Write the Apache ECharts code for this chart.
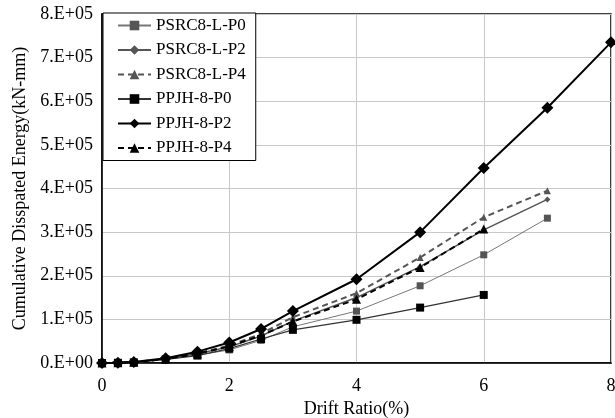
<!DOCTYPE html>
<html><head><meta charset="utf-8">
<script src="https://cdn.jsdelivr.net/npm/echarts@6/dist/echarts.min.js"></script>
<style>html,body{margin:0;padding:0;background:#fff}#c{width:615px;height:418px}</style>
</head><body><div id="c"></div>
<script>
var drift = [0, 0.25, 0.5, 1, 1.5, 2, 2.5, 3, 4, 5, 6, 7, 8];
var psrcP0 = [0, 500, 1500, 8000, 18000, 30000, 52000, 83000, 119000, 177000, 248000, 332000];
var psrcP2 = [0, 500, 2000, 9000, 21000, 37000, 62000, 96000, 150000, 221000, 305000, 375000];
var psrcP4 = [0, 500, 2000, 9500, 22000, 40000, 67000, 105000, 160000, 242000, 334000, 395000];
var ppjhP0 = [0, 500, 1500, 8000, 17000, 33000, 55000, 76000, 99000, 127000, 156000];
var ppjhP2 = [0, 500, 2500, 11000, 26000, 47000, 78000, 119000, 192000, 300000, 447000, 585000, 735000];
var ppjhP4 = [0, 500, 2000, 9000, 21000, 38000, 63000, 95000, 146000, 219000, 307000];
var names = ['PSRC8-L-P0','PSRC8-L-P2','PSRC8-L-P4','PPJH-8-P0','PPJH-8-P2','PPJH-8-P4'];
var yTicks = ['0.E+00','1.E+05','2.E+05','3.E+05','4.E+05','5.E+05','6.E+05','7.E+05','8.E+05'];

function pairs(v){ return v.map(function(y,i){ return [drift[i], y]; }); }
var F = 'Liberation Serif';
var chart = echarts.init(document.getElementById('c'));
chart.setOption({
  animation:false,
  textStyle:{fontFamily:F},
  grid:{left:102, right:4, top:14, bottom:55, outerBoundsMode:'none', containLabel:false,
    show:true, borderColor:'#000', borderWidth:1.5, backgroundColor:'transparent'},
  legend:{
    orient:'vertical', left:103, top:13, itemGap:7.5, itemWidth:33, itemHeight:12,
    padding:[4,10,4,14], backgroundColor:'#fff', borderColor:'#000', borderWidth:1,
    textStyle:{fontFamily:F, fontSize:17, color:'#000', lineHeight:17}, data:names
  },
  xAxis:{type:'value', min:0, max:8, interval:2,
    name:'Drift Ratio(%)', nameLocation:'middle', nameGap:35,
    nameTextStyle:{fontFamily:F, fontSize:18, color:'#000'},
    axisLine:{lineStyle:{color:'#000', width:1.5}}, axisTick:{show:false},
    axisLabel:{fontFamily:F, fontSize:18, color:'#000', margin:14},
    splitLine:{show:true, lineStyle:{color:'#c8c8c8', width:1}}},
  yAxis:{type:'value', min:0, max:800000, interval:100000,
    name:'Cumulative Disspated Energy(kN-mm)', nameLocation:'middle', nameGap:73, nameRotate:90,
    nameTextStyle:{fontFamily:F, fontSize:18, color:'#000'},
    axisLine:{show:true, lineStyle:{color:'#000', width:1.5}}, axisTick:{show:false},
    axisLabel:{fontFamily:F, fontSize:18, color:'#000', margin:9,
      formatter:function(v){ return yTicks[Math.round(v/100000)]; }},
    splitLine:{show:true, lineStyle:{color:'#c8c8c8', width:1}}},
  series:[
    {name:names[0], type:'line', data:pairs(psrcP0), symbol:'rect', symbolSize:7,
      lineStyle:{color:'#777', width:1}, itemStyle:{color:'#555'}},
    {name:names[1], type:'line', data:pairs(psrcP2), symbol:'diamond', symbolSize:6,
      lineStyle:{color:'#555', width:1.5}, itemStyle:{color:'#555'}},
    {name:names[2], type:'line', data:pairs(psrcP4), symbol:'triangle', symbolSize:7,
      lineStyle:{color:'#555', width:2, type:[6,4]}, itemStyle:{color:'#555'}},
    {name:names[3], type:'line', data:pairs(ppjhP0), symbol:'rect', symbolSize:8,
      lineStyle:{color:'#333', width:1.2}, itemStyle:{color:'#000'}},
    {name:names[4], type:'line', data:pairs(ppjhP2), symbol:'diamond', symbolSize:12,
      lineStyle:{color:'#000', width:2}, itemStyle:{color:'#000'}},
    {name:names[5], type:'line', data:pairs(ppjhP4), symbol:'triangle', symbolSize:9,
      lineStyle:{color:'#000', width:2, type:[6,4]}, itemStyle:{color:'#000'}}
  ]
});
</script></body></html>
